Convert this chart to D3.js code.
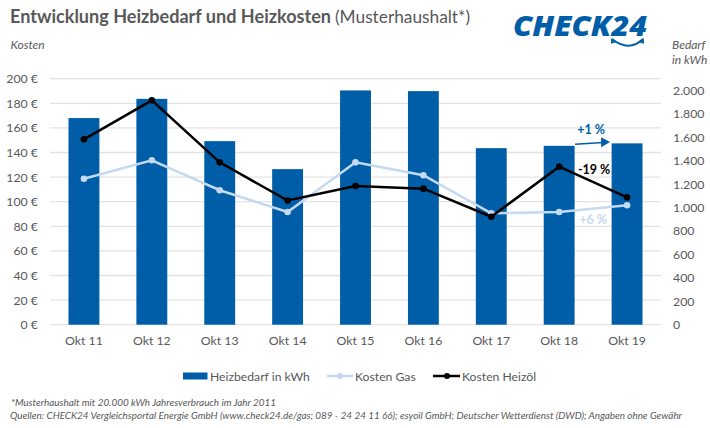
<!DOCTYPE html>
<html>
<head>
<meta charset="utf-8">
<script src="https://cdnjs.cloudflare.com/ajax/libs/d3/7.8.5/d3.min.js"></script>
<style>
  html, body { margin: 0; padding: 0; background: #fff; }
  svg { display: block; }
  text { font-family: Lato, "Open Sans", sans-serif; fill: #58585a; }
  .grid line { stroke: #e3e3e5; stroke-width: 1.3; }
  .axis text { font-size: 12.3px; font-family: Lato, sans-serif; }
  .axis path, .axis line { display: none; }
  .note { font-size: 10.3px; font-style: italic; }
  .unit { font-size: 12px; font-style: italic; }
  .legend text { font-size: 12.2px; }
  .change { font-size: 12.5px; font-weight: 700; }
</style>
</head>
<body>
<div id="chart"></div>
<script>
var data = [
  {label: "Okt 11", bedarf: 1764, gas: 118.7, oel: 150.7},
  {label: "Okt 12", bedarf: 1928, gas: 133.7, oel: 182.4},
  {label: "Okt 13", bedarf: 1567, gas: 109.3, oel: 132},
  {label: "Okt 14", bedarf: 1328, gas: 91.6, oel: 101},
  {label: "Okt 15", bedarf: 2000, gas: 132, oel: 112.8},
  {label: "Okt 16", bedarf: 1994, gas: 121.5, oel: 110.6},
  {label: "Okt 17", bedarf: 1507, gas: 90.6, oel: 87.8},
  {label: "Okt 18", bedarf: 1527, gas: 91.6, oel: 128.5},
  {label: "Okt 19", bedarf: 1548, gas: 97.1, oel: 103.6}
];

var margin = {top: 78.7, right: 49, bottom: 103.3, left: 50},
    width = 710,
    height = 428,
    blue = "#005ea8",
    lightBlue = "#c5d9f0",
    innerW = width - margin.left - margin.right,
    innerH = height - margin.top - margin.bottom;

var x = d3.scaleBand().domain(data.map(function(d) { return d.label; })).range([0, innerW]).paddingInner(0.545).paddingOuter(0.2725),
    yCost = d3.scaleLinear().domain([0, 200]).range([innerH, 0]),
    yNeed = d3.scaleLinear().domain([0, 2100]).range([innerH, 0]);

var svg = d3.select("#chart").append("svg").attr("width", width).attr("height", height);
var g = svg.append("g").attr("transform", "translate(" + margin.left + "," + margin.top + ")");

function cx(d) { return x(d.label) + x.bandwidth() / 2; }

g.append("g").attr("class", "grid")
  .selectAll("line").data(d3.range(0, 201, 20)).enter().append("line")
    .attr("x1", 0).attr("x2", innerW)
    .attr("y1", function(d) { return yCost(d); })
    .attr("y2", function(d) { return yCost(d); });

g.selectAll("rect.bar").data(data).enter().append("rect")
  .attr("class", "bar")
  .attr("x", function(d) { return x(d.label); })
  .attr("width", x.bandwidth())
  .attr("y", function(d) { return yNeed(d.bedarf); })
  .attr("height", function(d) { return innerH - yNeed(d.bedarf); })
  .attr("fill", blue);

// axes
g.append("g").attr("class", "axis")
  .call(d3.axisLeft(yCost).tickValues(d3.range(0, 201, 20)).tickSize(0).tickPadding(12)
    .tickFormat(function(d) { return d + " €"; }));
g.append("g").attr("class", "axis")
  .attr("transform", "translate(" + innerW + ",0)")
  .call(d3.axisRight(yNeed).tickValues(d3.range(0, 2001, 200)).tickSize(0).tickPadding(12)
    .tickFormat(function(d) { return d >= 1000 ? d3.format(".3f")(d / 1000) : d; }));
g.append("g").attr("class", "axis")
  .attr("transform", "translate(0," + innerH + ")")
  .call(d3.axisBottom(x).tickSize(0).tickPadding(12));

// lines
[{key: "gas", color: lightBlue}, {key: "oel", color: "#000"}].forEach(function(s) {
  var line = d3.line().x(cx).y(function(d) { return yCost(d[s.key]); });
  g.append("path").datum(data)
    .attr("d", line).attr("fill", "none")
    .attr("stroke", s.color).attr("stroke-width", 2.5);
  g.selectAll("circle." + s.key).data(data).enter().append("circle")
    .attr("class", s.key)
    .attr("cx", cx)
    .attr("cy", function(d) { return yCost(d[s.key]); })
    .attr("r", 3.3)
    .attr("fill", s.color);
});

// change labels
var last = data[8], prev = data[7], mid = (cx(last) + cx(prev)) / 2;
g.append("text").attr("class", "change").attr("x", mid - 2).attr("y", yNeed(1628)).attr("text-anchor", "middle")
  .style("fill", blue).text("+1 %");
g.append("text").attr("class", "change").attr("x", mid + 1).attr("y", yCost(122.5)).attr("text-anchor", "middle")
  .style("fill", "#000").text("-19 %");
g.append("text").attr("class", "change").attr("x", mid).attr("y", yCost(82)).attr("text-anchor", "middle")
  .style("fill", lightBlue).text("+6 %");
g.append("path")
  .attr("d", d3.line()([[mid - 18, yNeed(1540)], [mid + 10, yNeed(1556)]]))
  .attr("stroke", blue).attr("stroke-width", 1.5).attr("fill", "none");
g.append("path")
  .attr("d", d3.line()([[mid + 8, yNeed(1600)], [mid + 17, yNeed(1560)], [mid + 8, yNeed(1515)]]) + "Z")
  .attr("fill", blue);

// title
var title = svg.append("text").attr("x", 10).attr("y", 23).style("font-size", "18.5px");
title.append("tspan").style("font-weight", 700).attr("textLength", 321).attr("lengthAdjust", "spacingAndGlyphs")
  .text("Entwicklung Heizbedarf und Heizkosten");
title.append("tspan").attr("dx", 4).style("font-size", "17.3px").text("(Musterhaushalt*)");

svg.append("text").attr("class", "unit").attr("x", 10.5).attr("y", 49).text("Kosten");
svg.append("text").attr("class", "unit").attr("x", 672).attr("y", 49).text("Bedarf");
svg.append("text").attr("class", "unit").attr("x", 672).attr("y", 64).text("in kWh");

// logo
var logo = svg.append("g").attr("transform", "translate(513,35.5)");
logo.append("text").attr("x", 0).attr("y", 0)
  .attr("textLength", 134).attr("lengthAdjust", "spacingAndGlyphs")
  .style("fill", blue).style("font-family", "'Open Sans', sans-serif")
  .style("font-size", "28px").style("font-weight", 800).style("font-style", "italic")
  .text("CHECK24");
logo.append("path")
  .attr("d", "M 99 3.5 Q 116 17 130 3.5 M 99 3 l 0 4 l 4 -1 M 130 3 l 0 4 l -4 -1")
  .attr("fill", "none").attr("stroke", blue).attr("stroke-width", 1.8);

// legend
var legend = svg.append("g").attr("class", "legend");
legend.append("rect").attr("x", 183).attr("y", 372.5).attr("width", 24.5).attr("height", 7).attr("fill", blue);
legend.append("text").attr("x", 210).attr("y", 380.5).text("Heizbedarf in kWh");
legend.append("line").attr("x1", 327).attr("x2", 353).attr("y1", 376).attr("y2", 376)
  .attr("stroke", lightBlue).attr("stroke-width", 2.5);
legend.append("circle").attr("cx", 340).attr("cy", 376).attr("r", 3).attr("fill", lightBlue);
legend.append("text").attr("x", 355).attr("y", 380.5).text("Kosten Gas");
legend.append("line").attr("x1", 433).attr("x2", 460).attr("y1", 376).attr("y2", 376)
  .attr("stroke", "#000").attr("stroke-width", 2.5);
legend.append("circle").attr("cx", 447).attr("cy", 376).attr("r", 3).attr("fill", "#000");
legend.append("text").attr("x", 462).attr("y", 380.5).text("Kosten Heizöl");

// footnotes
svg.append("text").attr("class", "note").attr("x", 11).attr("y", 406)
  .attr("textLength", 265).attr("lengthAdjust", "spacingAndGlyphs")
  .text("*Musterhaushalt mit 20.000 kWh Jahresverbrauch im Jahr 2011");
svg.append("text").attr("class", "note").attr("x", 10).attr("y", 419)
  .attr("textLength", 672).attr("lengthAdjust", "spacingAndGlyphs")
  .text("Quellen: CHECK24 Vergleichsportal Energie GmbH (www.check24.de/gas; 089 - 24 24 11 66); esyoil GmbH; Deutscher Wetterdienst (DWD); Angaben ohne Gewähr");
</script>
</body>
</html>
